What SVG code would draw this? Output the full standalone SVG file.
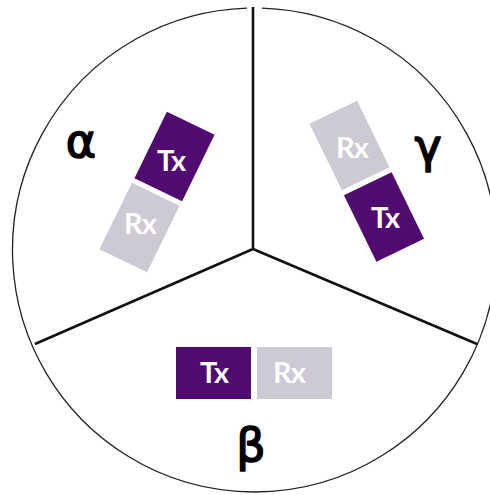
<svg xmlns="http://www.w3.org/2000/svg" width="490" height="495" viewBox="0 0 490 495">
  <style>
    .tx { fill: #4f0b70; }
    .rx { fill: #cdcad6; }
    .lbl { font-family: Lato, "Open Sans", sans-serif; font-weight: 700; font-size: 29px; letter-spacing: -1px; fill: #ffffff; text-anchor: middle; }
    .greek { font-family: "DejaVu Sans", sans-serif; font-size: 46px; fill: #000; stroke: #000; stroke-width: 1.6; stroke-linejoin: round; text-anchor: middle; }
    .rim { fill: none; stroke: #222; stroke-width: 1.3; }
    .div { fill: none; stroke: #111; stroke-width: 2.6; stroke-linejoin: round; }
  </style>
  <rect width="490" height="495" fill="#ffffff"/>
  <path class="rim" d="M262,8.1 A242,242 0 1,1 247,8.1"/>
  <g id="dividers">
    <path class="div" d="M253,7 L253,249 M253,249 L35,344 M253,249 L477,344"/>
  </g>

  <g id="alpha">
    <text class="greek" x="81" y="157">α</text>
    <g id="alpha-tx">
      <rect class="tx" x="-37" y="-26.5" width="74" height="53" transform="translate(174.5,156.5) rotate(116)"/>
      <text class="lbl" x="171" y="171">Tx</text>
    </g>
    <g id="alpha-rx">
      <rect class="rx" x="-37" y="-26.5" width="74" height="53" transform="translate(139.5,227.5) rotate(116)"/>
      <text class="lbl" x="140" y="234">Rx</text>
    </g>
  </g>

  <g id="gamma">
    <text class="greek" x="428" y="162" font-size="52">γ</text>
    <g id="gamma-rx">
      <rect class="rx" x="-37" y="-26.5" width="74" height="53" transform="translate(349.5,145.5) rotate(-116)"/>
      <text class="lbl" x="352" y="158">Rx</text>
    </g>
    <g id="gamma-tx">
      <rect class="tx" x="-37" y="-26.5" width="74" height="53" transform="translate(384,217) rotate(-116)"/>
      <text class="lbl" x="385" y="228">Tx</text>
    </g>
  </g>

  <g id="beta">
    <text class="greek" x="251" y="461">β</text>
    <g id="beta-tx">
      <rect class="tx" x="176" y="347" width="75" height="52"/>
      <text class="lbl" x="214" y="383">Tx</text>
    </g>
    <g id="beta-rx">
      <rect class="rx" x="257" y="347" width="75" height="52"/>
      <text class="lbl" x="289" y="383">Rx</text>
    </g>
  </g>
</svg>
